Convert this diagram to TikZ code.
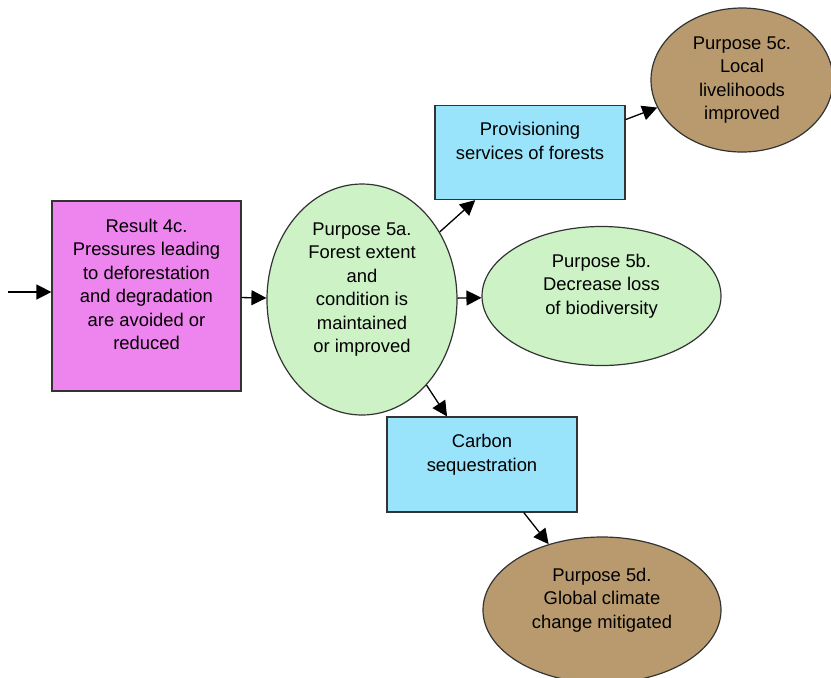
\documentclass[tikz,border=0pt]{standalone}
\usepackage{fontspec}
\setmainfont{Liberation Sans}
\usepackage{xcolor}
\usepackage{tikz}
\usetikzlibrary{shapes,arrows.meta,positioning,calc}

\definecolor{respink}{RGB}{238,132,238}
\definecolor{purgreen}{RGB}{204,242,198}
\definecolor{srvblue}{RGB}{153,228,250}
\definecolor{goalbrown}{RGB}{184,154,110}

\begin{document}
\begin{tikzpicture}[
    x=0.5pt, y=-0.5pt,
    every node/.style={font=\fontsize{9.2}{11.75}\selectfont, align=center, inner sep=0pt, line width=0.6pt},
    b1/.style={rectangle, draw=black!80, fill=respink},
    b2/.style={ellipse, draw=black!80, fill=purgreen},
    b3/.style={rectangle, draw=black!80, fill=srvblue},
    b4/.style={ellipse, draw=black!80, fill=goalbrown},
    arr/.style={-{Triangle[length=7.5pt,width=7.5pt]}, line width=0.65pt, draw=black}
]
    \useasboundingbox (0,0) rectangle (831,677);

    \node [b1, minimum width=94.5pt, minimum height=95pt] (r4c) at (146.5,296)
        {Result 4c.\\Pressures leading\\to deforestation\\and degradation\\are avoided or\\reduced\\ \mbox{}};
    \node [b2, minimum width=95pt, minimum height=115.5pt] (p5a) at (362,299.5)
        {Purpose 5a.\\Forest extent\\and\\condition is\\maintained\\or improved\\ \mbox{}};
    \node [b3, minimum width=95pt, minimum height=47pt] (prov) at (530,152.5)
        {Provisioning\\services of forests\\ \mbox{}};
    \node [b4, minimum width=91pt, minimum height=72pt] (p5c) at (742,80)
        {Purpose 5c.\\Local\\livelihoods\\improved};
    \node [b2, minimum width=119.5pt, minimum height=69.5pt] (p5b) at (601.5,296)
        {Purpose 5b.\\Decrease loss\\of biodiversity\\ \mbox{}};
    \node [b3, minimum width=95pt, minimum height=47.5pt] (carb) at (482,464.5)
        {Carbon\\sequestration\\ \mbox{}};
    \node [b4, minimum width=119pt, minimum height=73pt] (p5d) at (602,610)
        {Purpose 5d.\\Global climate\\change mitigated\\ \mbox{}};

    \coordinate (in) at (8,292);

    \draw [arr] (in) -- (in -| r4c.west);
    \draw [arr] (r4c) -- (p5a);
    \draw [arr] (p5a.41) -- (prov.221);
    \draw [arr] (prov.19) -- (p5c.198);
    \draw [arr] (p5a) -- (p5b);
    \draw [arr] (p5a.-53) -- (carb.126);
    \draw [arr] (carb.-49) -- (p5d.129);
\end{tikzpicture}
\end{document}
